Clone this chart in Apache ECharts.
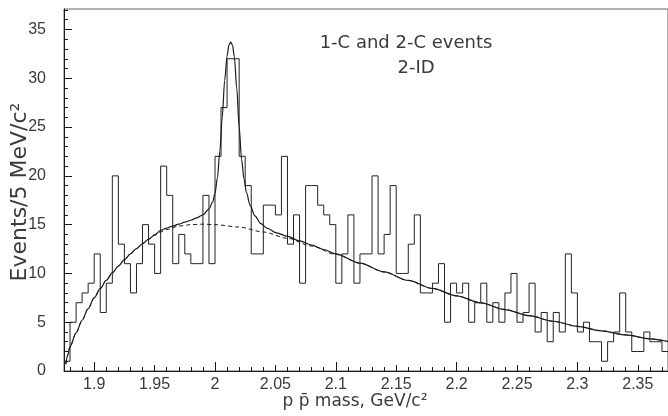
<!DOCTYPE html>
<html><head><meta charset="utf-8">
<script src="https://cdn.jsdelivr.net/npm/echarts@6/dist/echarts.min.js"></script>
<style>html,body{margin:0;padding:0;background:#fff}#c{width:668px;height:416px}</style>
</head><body><div id="c"></div>
<script>
// Histogram: 5 MeV bins starting at 1.875 GeV
const binStart = 1.875;
const binWidth = 0.005;
const counts = [
  1, 5, 7, 8, 9, 12, 6, 9, 20, 13,
  11, 8, 11, 15, 13, 10, 21, 18, 11, 14,
  12, 11, 11, 18, 11, 22, 27, 32, 32, 22,
  19, 12, 12, 17, 17, 16, 22, 13, 16, 9,
  19, 19, 17, 16, 15, 9, 12, 16, 9, 12,
  12, 20, 12, 14, 19, 10, 10, 13, 16, 8,
  8, 9, 11, 5, 9, 8, 9, 5, 7, 9,
  5, 7, 5, 8, 10, 5, 6, 9, 4, 6,
  3, 6, 4, 12, 8, 4, 5, 3, 3, 1,
  3, 4, 8, 4, 2, 2, 4, 3, 3, 2
];
// Full fit (signal + background)
const fitX = [1.8765, 1.878, 1.88, 1.885, 1.89, 1.895, 1.9, 1.905, 1.91, 1.915, 1.92, 1.925, 1.93, 1.935, 1.94, 1.945, 1.95, 1.955, 1.96, 1.965, 1.97, 1.975, 1.98, 1.985, 1.99, 1.995, 1.998, 2.0, 2.002, 2.004, 2.006, 2.008, 2.010, 2.0115, 2.013, 2.0145, 2.016, 2.018, 2.020, 2.022, 2.024, 2.026, 2.029, 2.033, 2.038, 2.043, 2.051, 2.06, 2.07, 2.08, 2.09, 2.10, 2.12, 2.14, 2.16, 2.18, 2.20, 2.22, 2.24, 2.26, 2.28, 2.30, 2.32, 2.34, 2.36, 2.375];
const fitY = [0.7, 1.6, 2.5, 3.9, 5.2, 6.4, 7.5, 8.45, 9.3, 10.05, 10.75, 11.4, 12.0, 12.55, 13.05, 13.5, 13.95, 14.4, 14.65, 14.85, 15.05, 15.25, 15.45, 15.7, 16.0, 16.6, 17.3, 18.2, 19.8, 22.5, 26.0, 29.8, 32.3, 33.4, 33.7, 33.4, 32.2, 29.0, 25.0, 21.7, 19.7, 18.3, 17.0, 15.9, 15.1, 14.65, 14.15, 13.8, 13.33, 12.9, 12.45, 12.0, 11.05, 10.15, 9.28, 8.46, 7.7, 6.98, 6.3, 5.67, 5.1, 4.58, 4.12, 3.7, 3.3, 3.02];
// Background-only fit (dashed)
const bgX = [1.8765, 1.878, 1.88, 1.885, 1.89, 1.895, 1.9, 1.905, 1.91, 1.915, 1.92, 1.925, 1.93, 1.935, 1.94, 1.945, 1.95, 1.955, 1.96, 1.97, 1.98, 1.99, 2.0, 2.02, 2.04, 2.06, 2.08, 2.10, 2.12, 2.14, 2.16, 2.18, 2.20, 2.22, 2.24, 2.26, 2.28, 2.30, 2.32, 2.34, 2.36, 2.375];
const bgY = [0.7, 1.6, 2.5, 3.9, 5.2, 6.4, 7.5, 8.45, 9.3, 10.05, 10.75, 11.4, 12.0, 12.55, 13.05, 13.5, 13.9, 14.25, 14.5, 14.85, 15.0, 15.05, 15.0, 14.75, 14.25, 13.6, 12.8, 11.95, 11.05, 10.15, 9.28, 8.46, 7.7, 6.98, 6.3, 5.67, 5.1, 4.58, 4.12, 3.7, 3.3, 3.02];
// Axis ticks and labels
const xLabels = [1.9, 1.95, 2.0, 2.05, 2.1, 2.15, 2.2, 2.25, 2.3, 2.35];
const xMajor = [1.9, 2.0, 2.1, 2.2, 2.3];
const xMinor = [1.88, 1.89, 1.9, 1.91, 1.92, 1.93, 1.94, 1.95, 1.96, 1.97, 1.98, 1.99, 2.0, 2.01, 2.02, 2.03, 2.04, 2.05, 2.06, 2.07, 2.08, 2.09, 2.1, 2.11, 2.12, 2.13, 2.14, 2.15, 2.16, 2.17, 2.18, 2.19, 2.2, 2.21, 2.22, 2.23, 2.24, 2.25, 2.26, 2.27, 2.28, 2.29, 2.3, 2.31, 2.32, 2.33, 2.34, 2.35, 2.36, 2.37];
const yLabels = [0, 5, 10, 15, 20, 25, 30, 35];
const yMinor = [1,2,3,4,5,6,7,8,9,10,11,12,13,14,15,16,17,18,19,20,21,22,23,24,25,26,27,28,29,30,31,32,33,34,35,36,37];

const titleLines = ['1-C and 2-C events', '2-ID'];
const xTitle = 'p p\u0304 mass, GeV/c\u00B2';
const yTitle = 'Events/5 MeV/c\u00B2';

const histData = counts.map((c, i) => [+(binStart + i * binWidth).toFixed(4), c]);
histData.push([+(binStart + counts.length * binWidth).toFixed(4), counts[counts.length - 1]]);
const fitData = fitX.map((x, i) => [x, fitY[i]]);
const bgData = bgX.map((x, i) => [x, bgY[i]]);

const XMIN = 1.875, XMAX = 2.375, YMIN = 0, YMAX = 37.1;
const ink = '#1a1a1a';
const textCol = '#3a3a3a';
const tickFont = { fontFamily: 'Liberation Sans', fontSize: 16, color: textCol };

function xAx(ticks, len, labels) {
  return {
    type: 'value', min: XMIN, max: XMAX, position: 'bottom', offset: 0,
    axisLine: { show: !!labels, onZero: false, lineStyle: { color: ink, width: 1 } },
    axisTick: { show: true, inside: true, length: len, customValues: ticks, lineStyle: { color: ink, width: 1 } },
    axisLabel: labels ? Object.assign({ show: true, customValues: labels, margin: 6 }, tickFont) : { show: false },
    splitLine: { show: false }
  };
}
function yAx(ticks, len, labels) {
  return {
    type: 'value', min: YMIN, max: YMAX, position: 'left', offset: 0,
    axisLine: { show: !!labels, onZero: false, lineStyle: { color: ink, width: 1 } },
    axisTick: { show: true, inside: true, length: len, customValues: ticks, lineStyle: { color: ink, width: 1 } },
    axisLabel: labels ? Object.assign({ show: true, customValues: labels, margin: 18 }, tickFont) : { show: false },
    splitLine: { show: false }
  };
}

const chart = echarts.init(document.getElementById('c'), null, { renderer: 'canvas' });
chart.setOption({
  animation: false,
  backgroundColor: '#fff',
  grid: { left: 64, top: 9, width: 607, height: 362, show: true, borderColor: '#666', borderWidth: 1, backgroundColor: 'transparent', containLabel: false },
  xAxis: [xAx(xLabels, 6, xLabels), xAx(xMajor, 9, null), xAx(xMinor, 4, null)],
  yAxis: [yAx(yLabels, 8, yLabels), yAx(yMinor, 4, null)],
  series: [
    { type: 'line', data: histData, step: 'end', symbol: 'none', xAxisIndex: 0, yAxisIndex: 0,
      lineStyle: { color: '#222', width: 1 }, z: 2 },
    { type: 'line', data: bgData, smooth: 0.3, smoothMonotone: 'x', symbol: 'none', xAxisIndex: 0, yAxisIndex: 0,
      lineStyle: { color: ink, width: 1, type: [4, 3] }, z: 3 },
    { type: 'line', data: fitData, smooth: 0.3, smoothMonotone: 'x', symbol: 'none', xAxisIndex: 0, yAxisIndex: 0,
      lineStyle: { color: ink, width: 1.2 }, z: 4 }
  ],
  graphic: [
    { type: 'text', x: 406, y: 43, style: { text: titleLines[0], fontFamily: 'DejaVu Sans', fontSize: 18, fill: textCol, align: 'center', verticalAlign: 'middle' } },
    { type: 'text', x: 416, y: 68, style: { text: titleLines[1], fontFamily: 'DejaVu Sans', fontSize: 18, fill: textCol, align: 'center', verticalAlign: 'middle' } },
    { type: 'text', x: 355, y: 402, style: { text: xTitle, fontFamily: 'DejaVu Sans', fontSize: 17, fill: textCol, align: 'center', verticalAlign: 'middle' } },
    { type: 'text', x: 20, y: 192, rotation: Math.PI / 2, style: { text: yTitle, fontFamily: 'DejaVu Sans', fontSize: 22, fill: textCol, align: 'center', verticalAlign: 'middle' } }
  ]
});
</script>
</body></html>
